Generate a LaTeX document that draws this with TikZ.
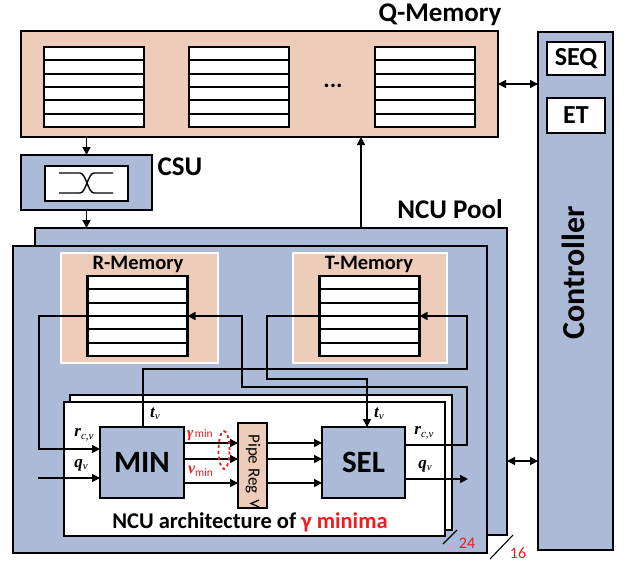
\documentclass[tikz,border=0pt]{standalone}
\usepackage{fontspec}
\setmainfont{Carlito}
\newfontfamily\lserif{Liberation Serif}
\usetikzlibrary{arrows.meta,calc,shapes.geometric}

\definecolor{peach}{RGB}{237,205,185}
\definecolor{slate}{RGB}{171,186,214}
\definecolor{tagred}{RGB}{235,30,30}

% rows of a memory block
\newcommand\memrows[1]{%
  \foreach \k in {1,...,5}{%
    \draw[rowline] ($(#1.north west)!\k/6!(#1.south west)$) -- ($(#1.north east)!\k/6!(#1.south east)$);}}
% signal label: bold italic letter with an italic subscript
\newcommand\sig[2]{{\lserif\bfseries\itshape\fontsize{17}{17}\selectfont #1}\raisebox{-0.5ex}{\lserif\itshape\fontsize{11}{11}\selectfont #2}}

\begin{document}
\begin{tikzpicture}[x=1pt,y=-1pt,
  every node/.style={inner sep=0pt, outer sep=0pt},
  blk/.style={draw, line width=2.6pt, rectangle},
  memblk/.style={blk, fill=white, minimum width=100pt, minimum height=80pt},
  rowline/.style={line width=2pt},
  wire/.style={line width=1.6pt},
  arr/.style={wire, -{Triangle[length=8pt,width=8pt]}},
  darr/.style={wire, {Triangle[length=8pt,width=8pt]}-{Triangle[length=8pt,width=8pt]}},
  title/.style={font=\bfseries\fontsize{27}{27}\selectfont},
  sub/.style={font=\bfseries\fontsize{20.5}{20.5}\selectfont},
  unit/.style={font=\bfseries\fontsize{31}{31}\selectfont},
  redtxt/.style={text=tagred}]
\useasboundingbox (0,0) rectangle (626,563);

% ---------------- Q-Memory ----------------
\node[blk, fill=peach, minimum width=477pt, minimum height=106pt] (qmem) at (259.5,84) {};
\node[memblk] (qm1) at (94,87) {};
\node[memblk] (qm2) at (239,87) {};
\node[memblk] (qm3) at (425,87) {};
\memrows{qm1}\memrows{qm2}\memrows{qm3}
\node[font=\bfseries\fontsize{24}{24}\selectfont] (dots) at (333,86) {...};
\node[title] (qmlab) at (440,15) {Q-Memory};

% ---------------- Controller ----------------
\node[blk, fill=slate, minimum width=75pt, minimum height=518pt] (ctrl) at (575.5,291) {};
\node[blk, fill=white, minimum width=58pt, minimum height=33pt, font=\bfseries\fontsize{26}{26}\selectfont] (seq) at (576,58.5) {SEQ};
\node[blk, fill=white, minimum width=58pt, minimum height=35pt, font=\bfseries\fontsize{26}{26}\selectfont] (et) at (576,115.5) {ET};
\node[rotate=90, font=\bfseries\fontsize{32}{32}\selectfont] (ctrllab) at (573,273) {Controller};

% ---------------- CSU ----------------
\node[blk, fill=slate, minimum width=131pt, minimum height=55pt] (csu) at (86.5,182.5) {};
\node[blk, fill=white, minimum width=83pt, minimum height=35pt] (csuin) at (86.5,183.5) {};
\draw[line width=1.4pt] (59,173) -- (80,173) .. controls (86,173) and (88,193) .. (94,193) -- (113,193);
\draw[line width=1.4pt] (59,193) -- (80,193) .. controls (86,193) and (88,173) .. (94,173) -- (113,173);
\node[title] (csulab) at (180,167) {CSU};

% ---------------- NCU pool ----------------
\node[blk, fill=slate, minimum width=472pt, minimum height=307pt] (poolback) at (271,381.5) {};
\node[blk, fill=slate, minimum width=474pt, minimum height=307pt] (pool) at (250,399.5) {};
\node[title] (poollab) at (450,209) {NCU Pool};

% R-Memory and T-Memory
\node[draw=white, line width=2.5pt, fill=peach, minimum width=157pt, minimum height=110pt] (rreg) at (139.5,308) {};
\node[draw=white, line width=2.5pt, fill=peach, minimum width=154pt, minimum height=110pt] (treg) at (370,308) {};
\node[memblk] (rb) at (137.5,316) {};
\node[memblk] (tb) at (369.5,316) {};
\memrows{rb}\memrows{tb}
\node[sub] (rlab) at (138,264) {R-Memory};
\node[sub] (tlab) at (369,264) {T-Memory};

% NCU architecture cards
\node[blk, fill=white, minimum width=382pt, minimum height=135pt] (archback) at (261,462.5) {};
\node[blk, fill=white, minimum width=381pt, minimum height=134pt] (arch) at (254.5,469) {};
\node[font=\bfseries\fontsize{22.5}{22.5}\selectfont] (archlab) at (250,522) {NCU architecture of \textcolor{tagred}{γ minima}};

\node[blk, fill=slate, minimum width=84pt, minimum height=71pt, unit] (min) at (142,462.5) {MIN};
\node[blk, fill=slate, minimum width=83pt, minimum height=71pt, unit] (sel) at (363.5,462.5) {SEL};
\node[blk, fill=peach, minimum width=29pt, minimum height=85pt] (pipe) at (252.5,465.5) {};
\node[rotate=-90, font=\fontsize{17}{17}\selectfont] (pipelab) at (253,464) {Pipe Reg};
\draw[line width=1.3pt] (259,500) -- (251,503.5) -- (259,507);

% ---------------- connectors ----------------
\draw[arr] (qmem.south -| csu) -- (csu.north);
\draw[arr] (csu.south) -- (csu.south |- poolback.north);
\coordinate (qin) at (361,137);
\draw[arr] (poolback.north -| qin) -- (qin);
\draw[darr] (qmem.east) -- (qmem.east -| ctrl.west);
\coordinate (pc) at (507,461);
\draw[darr] (pc) -- (pc -| ctrl.west);

% R-Memory read into MIN
\coordinate (rr) at (39,449);
\draw[arr] (rb.west) -| (rr) -- (rr -| min.west);
% q_v into MIN
\coordinate (qvin) at (38,478);
\draw[arr] (qvin) -- (qvin -| min.west);
% t_v from MIN written back to T-Memory
\coordinate (tw1) at (143,369);
\coordinate (tw2) at (467,369);
\draw[arr] (tw1 |- min.north) -- (tw1) -- (tw2) |- (tb.east);
% T-Memory read into SEL
\coordinate (tr1) at (267,379);
\coordinate (tr2) at (367,379);
\draw[arr] (tb.west) -| (tr1) -- (tr2) -- (tr2 |- sel.north);
% r_{c,v} from SEL written back to R-Memory
\coordinate (sr1) at (467,445);
\coordinate (sr2) at (467,387);
\coordinate (sr3) at (242,387);
\draw[arr] (sr1 -| sel.east) -- (sr1) -- (sr2) -- (sr3) |- (rb.east);
% q_v out of SEL
\coordinate (qvo) at (468,479);
\draw[arr] (qvo -| sel.east) -- (qvo);

% MIN -> Pipe Reg -> SEL
\coordinate (lane1) at (0,443);
\coordinate (lane2) at (0,459);
\coordinate (lane3) at (0,483);
\foreach \ln in {lane1,lane2,lane3}{
  \draw[arr] (min.east |- \ln) -- (pipe.west |- \ln);
  \draw[arr] (pipe.east |- \ln) -- (sel.west |- \ln);
}
\node[draw=tagred, dashed, line width=1.8pt, ellipse, minimum width=11pt, minimum height=38pt] (grp) at (224,450) {};

% ---------------- labels ----------------
\node (tv1) at (155,414) {\sig{t}{v}};
\node (tv2) at (379,414) {\sig{t}{v}};
\node (rcv1) at (84,435) {\sig{r}{c,v}};
\node (rcv2) at (424,433) {\sig{r}{c,v}};
\node (qv1) at (81,465) {\sig{q}{v}};
\node (qv2) at (425,466) {\sig{q}{v}};
\node[redtxt, anchor=west] (gmin) at (187,435) {{\lserif\bfseries\itshape\fontsize{15}{15}\selectfont γ}\,{\fontsize{11.5}{11.5}\selectfont min}};
\node[redtxt, anchor=west] (vmin) at (188,471) {{\lserif\bfseries\itshape\fontsize{16}{16}\selectfont v}\raisebox{-0.7ex}{\fontsize{11.5}{11.5}\selectfont min}};

% bus width marks
\draw[line width=1.1pt] (443,544) -- (457,530);
\node[redtxt, font=\fontsize{16}{16}\selectfont] (n24) at (467,543) {24};
\draw[line width=1.1pt] (490,559) -- (513,535);
\node[redtxt, font=\fontsize{16}{16}\selectfont] (n16) at (518,553) {16};
\end{tikzpicture}
\end{document}
